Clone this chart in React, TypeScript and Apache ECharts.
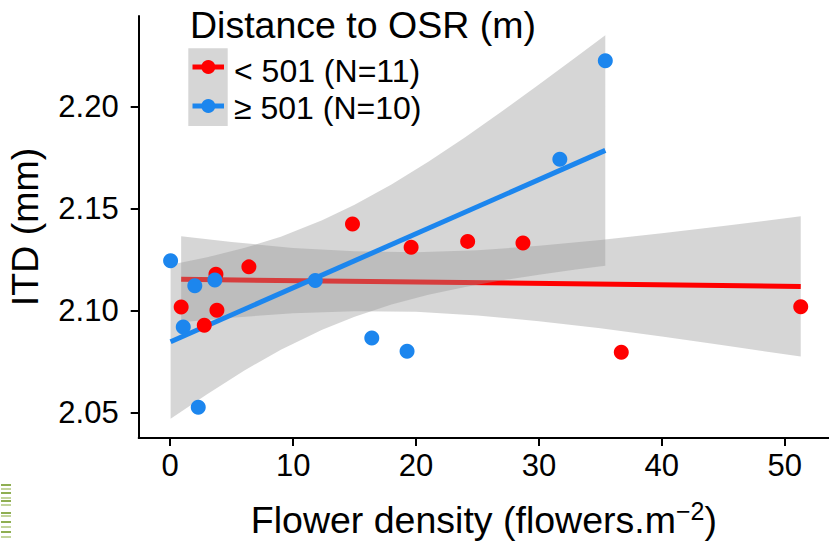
import React, { useEffect, useRef } from "react";
import * as echarts from "echarts";

// ---- data ----
const redPointsX = [0.89, 2.77, 3.72, 3.8, 6.4, 14.83, 19.6, 24.2, 28.7, 36.7, 51.3];
const redPointsY = [2.1016, 2.0927, 2.1177, 2.1, 2.1213, 2.1423, 2.1309, 2.1338, 2.133, 2.0795, 2.1018];
const bluePointsX = [0.03, 1.06, 2.0, 2.28, 3.63, 11.8, 16.4, 19.27, 31.7, 35.4];
const bluePointsY = [2.1243, 2.0918, 2.112, 2.0525, 2.1149, 2.1146, 2.0864, 2.0799, 2.1741, 2.2224];

const redFitX = [0.89, 51.3];
const redFitY = [2.1152, 2.1117];
const blueFitX = [0.03, 35.4];
const blueFitY = [2.0846, 2.1784];

const redBandX = [0.89, 5, 10, 15, 20, 25, 30, 35, 40, 45, 51.3];
const redBandUpper = [2.1363, 2.1335, 2.1306, 2.1289, 2.1285, 2.1295, 2.1316, 2.1345, 2.1378, 2.1413, 2.1461];
const redBandLower = [2.0941, 2.0964, 2.0986, 2.0996, 2.0993, 2.0975, 2.0947, 2.0912, 2.0872, 2.0829, 2.0773];

const blueBandX = [0.03, 3, 6, 9, 12.36, 15, 18, 21, 24, 27, 30, 33, 35.4];
const blueBandUpper = [2.1224, 2.126, 2.1305, 2.1361, 2.1441, 2.1517, 2.1617, 2.1728, 2.1849, 2.1976, 2.2107, 2.2241, 2.2349];
const blueBandLower = [2.0468, 2.0589, 2.0704, 2.0807, 2.0905, 2.0969, 2.1029, 2.1076, 2.1114, 2.1147, 2.1175, 2.12, 2.1219];

const xTicks = [0, 10, 20, 30, 40, 50];
const yTicks = [2.05, 2.1, 2.15, 2.2];

const legendTitle = "Distance to OSR (m)";
const legendLabels = ["< 501 (N=11)", "≥ 501 (N=10)"];
const xTitle = "Flower density (flowers.m{sup|−2})";
const yTitle = "ITD (mm)";

const RED = "#FF0000";
const BLUE = "#1C86EE";
const RIBBON = "rgba(153,153,153,0.4)";
const FONT = "'Liberation Sans', Arial, Helvetica, sans-serif";

// small green stripe mark in the bottom-left corner of the reference
const stripeRows = [484, 488, 492, 497, 500, 504, 512, 515, 521, 526, 531, 536];

function bandSeries(xs: number[], lo: number[], up: number[], z: number) {
  const data = xs.map((x, i) => [x, lo[i], up[i]]);
  return {
    type: "custom",
    z,
    silent: true,
    clip: true,
    encode: { x: 0, y: [1, 2] },
    data,
    renderItem: (params: any, api: any) => {
      if (params.dataIndex !== 0) return null;
      const pts: number[][] = [];
      for (let i = 0; i < xs.length; i++) pts.push(api.coord([xs[i], up[i]]));
      for (let i = xs.length - 1; i >= 0; i--) pts.push(api.coord([xs[i], lo[i]]));
      return {
        type: "polygon",
        shape: { points: pts },
        style: { fill: RIBBON, stroke: "none" },
      };
    },
  };
}

export default function App() {
  const ref = useRef<HTMLDivElement>(null);
  useEffect(() => {
    if (!ref.current) return;
    const chart = echarts.init(ref.current, undefined, { renderer: "svg" });
    const option: any = {
      animation: false,
      backgroundColor: "#fff",
      grid: { left: 138.7, right: 0, top: 16, bottom: 108, containLabel: false, outerBoundsMode: "none" },
      xAxis: {
        type: "value",
        min: -2.565,
        max: 53.6,
        splitLine: { show: false },
        axisLine: { show: true, onZero: false, lineStyle: { color: "#000", width: 2 } },
        axisTick: { show: true, length: 8, lineStyle: { color: "#000", width: 2 }, customValues: xTicks },
        axisLabel: { customValues: xTicks, fontSize: 31, color: "#000", fontFamily: FONT, margin: 12 },
        name: xTitle,
        nameLocation: "middle",
        nameGap: 60,
        nameTextStyle: {
          fontSize: 37.5,
          color: "#000",
          fontFamily: FONT,
          rich: {
            sup: { fontSize: 25, color: "#000", fontFamily: FONT, verticalAlign: "bottom", padding: [0, 0, 18, 0] },
          },
        },
      },
      yAxis: {
        type: "value",
        min: 2.0374,
        max: 2.2443,
        splitLine: { show: false },
        axisLine: { show: true, onZero: false, lineStyle: { color: "#000", width: 2 } },
        axisTick: { show: true, length: 8, lineStyle: { color: "#000", width: 2 }, customValues: yTicks },
        axisLabel: {
          customValues: yTicks,
          fontSize: 31,
          color: "#000",
          fontFamily: FONT,
          margin: 20,
          formatter: (v: number) => v.toFixed(2),
        },
        name: yTitle,
        nameLocation: "middle",
        nameRotate: 90,
        nameGap: 95,
        nameTextStyle: { fontSize: 37.5, color: "#000", fontFamily: FONT },
      },
      series: [
        bandSeries(redBandX, redBandLower, redBandUpper, 1),
        {
          type: "line",
          z: 2,
          silent: true,
          symbol: "none",
          data: redFitX.map((x, i) => [x, redFitY[i]]),
          lineStyle: { color: RED, width: 5 },
        },
        bandSeries(blueBandX, blueBandLower, blueBandUpper, 3),
        {
          type: "line",
          z: 4,
          silent: true,
          symbol: "none",
          data: blueFitX.map((x, i) => [x, blueFitY[i]]),
          lineStyle: { color: BLUE, width: 5 },
        },
        {
          type: "scatter",
          z: 5,
          symbolSize: 15,
          data: redPointsX.map((x, i) => [x, redPointsY[i]]),
          itemStyle: { color: RED, opacity: 1 },
        },
        {
          type: "scatter",
          z: 5,
          symbolSize: 15,
          data: bluePointsX.map((x, i) => [x, bluePointsY[i]]),
          itemStyle: { color: BLUE, opacity: 1 },
        },
      ],
      graphic: [
        {
          type: "text",
          z: 10,
          style: { text: legendTitle, x: 190, y: 25, fontSize: 37.5, fontFamily: FONT, fill: "#000", verticalAlign: "middle" },
        },
        { type: "rect", z: 10, shape: { x: 188.3, y: 48.3, width: 39.4, height: 77.7 }, style: { fill: RIBBON } },
        { type: "line", z: 11, shape: { x1: 192.5, y1: 67, x2: 224, y2: 67 }, style: { stroke: RED, lineWidth: 5 } },
        { type: "circle", z: 12, shape: { cx: 208.3, cy: 67, r: 7 }, style: { fill: RED } },
        { type: "line", z: 11, shape: { x1: 192.5, y1: 106, x2: 224, y2: 106 }, style: { stroke: BLUE, lineWidth: 5 } },
        { type: "circle", z: 12, shape: { cx: 208.3, cy: 106, r: 7 }, style: { fill: BLUE } },
        {
          type: "text",
          z: 10,
          style: { text: legendLabels[0], x: 234, y: 70.5, fontSize: 32, fontFamily: FONT, fill: "#000", verticalAlign: "middle" },
        },
        {
          type: "text",
          z: 10,
          style: { text: legendLabels[1], x: 234, y: 107.5, fontSize: 32, fontFamily: FONT, fill: "#000", verticalAlign: "middle" },
        },
        ...stripeRows.map((y, i) => ({
          type: "rect",
          z: 10,
          silent: true,
          shape: { x: 1, y, width: 10, height: 2 },
          style: { fill: i % 2 === 0 ? "#8fae52" : "#c3d49c" },
        })),
      ],
    };
    chart.setOption(option);
    return () => chart.dispose();
  }, []);
  return (
    <div
      ref={ref}
      style={{ position: "fixed", left: 0, top: 0, width: 829, height: 546, background: "#fff" }}
    />
  );
}
